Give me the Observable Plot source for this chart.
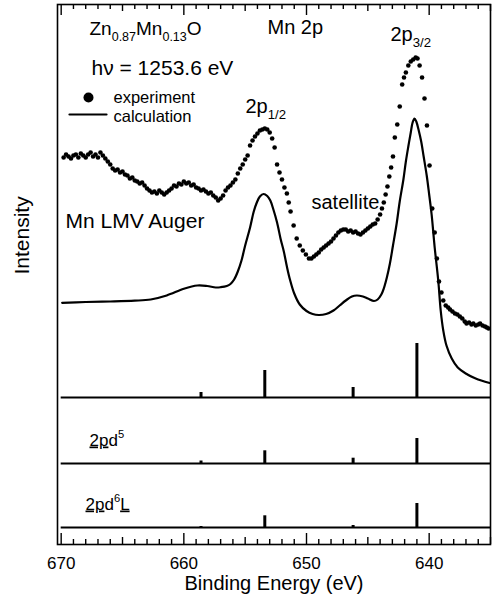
<!DOCTYPE html>
<html><head><meta charset="utf-8">
<script src="https://cdn.jsdelivr.net/npm/d3@7"></script>
<script src="https://cdn.jsdelivr.net/npm/@observablehq/plot@0.6"></script>
<style>html,body{margin:0;padding:0;background:#fff;} svg{display:block;}</style>
</head><body><div id="chart"></div>
<script>
// Experimental points (binding energy in eV, intensity in arbitrary units)
const expEnergy = [
 669.8,669.6,669.4,669.2,669.0,668.8,668.6,668.4,668.2,668.0,
 667.8,667.6,667.4,667.2,667.0,666.8,666.6,666.4,666.2,666.0,
 665.8,665.6,665.4,665.2,665.0,664.8,664.6,664.4,664.2,664.0,
 663.8,663.6,663.4,663.2,663.0,662.8,662.6,662.4,662.2,662.0,
 661.8,661.6,661.4,661.2,661.0,660.8,660.6,660.4,660.2,660.0,
 659.8,659.6,659.4,659.2,659.0,658.8,658.6,658.4,658.2,658.0,
 657.8,657.6,657.4,657.2,657.0,656.8,656.6,656.4,656.2,656.0,
 655.8,655.6,655.4,655.2,655.0,654.8,654.6,654.4,654.2,654.0,
 653.8,653.6,653.4,653.2,653.0,652.8,652.6,652.4,652.2,652.0,
 651.8,651.6,651.45,651.3,651.05,650.8,650.55,650.3,650.05,649.8,
 649.6,649.4,649.2,649.0,648.8,648.6,648.4,648.2,648.0,647.8,
 647.6,647.4,647.2,647.0,646.8,646.6,646.4,646.2,646.0,645.8,
 645.6,645.4,645.2,645.0,644.8,644.6,644.4,644.2,644.0,643.85,
 643.7,643.55,643.4,643.25,643.1,642.95,642.8,642.6,642.4,642.2,
 642.05,641.9,641.7,641.5,641.3,641.1,640.95,640.78,640.58,640.38,
 640.18,639.97,639.75,639.55,639.37,639.2,639.0,638.85,638.65,638.45,
 638.3,638.1,637.9,637.7,637.5,637.3,637.1,636.95,636.75,636.55,
 636.4,636.2,636.0,635.85,635.65,635.45,635.3,635.15
];
const expIntensity = [
 240,243,241,239,242,243,240,244,242,240,
 243,245,241,243,240,245,242,239,236,233,
 229,227,228,225,226,223,222,219,220,217,
 216,214,215,212,209,207,205,206,204,207,
 205,203,205,207,209,212,211,214,213,216,
 214,215,212,213,210,209,207,208,206,204,
 205,202,200,197,199,202,207,210,212,215,
 218,224,229,233,238,242,252,257,261,264,
 267,268,269,268,265,259,250,233,225,218,
 210,204,195,186,172,159,152,147,143,139,
 139,141,143,145,148,150,152,154,156,159,
 162,165,167,168,168,166,167,165,166,164,
 163,165,167,169,171,173,174,178,183,189,
 195,203,211,221,230,241,260,273,291,313,
 320,325,332,336,338,340,339,332,320,299,
 272,232,189,165,139,116,105,97,92,90,
 88,86,84,83,81,79,76,74,75,73,
 74,72,73,74,72,71,70,69
];
// Calculated spectrum
const calcEnergy = [669.92,668.0,666.0,664.0,662.7,661.4,660.0,658.9,658.1,657.4,657.0,656.5,656.2,655.9,655.6,655.3,655.0,654.6,654.3,654.05,653.8,653.5,653.2,652.95,652.7,652.4,652.1,651.85,651.6,651.35,651.0,650.55,650.0,649.5,649.0,648.4,647.8,647.3,646.8,646.3,645.9,645.4,645.0,644.5,644.2,643.9,643.7,643.45,643.2,642.95,642.65,642.4,642.1,641.9,641.7,641.5,641.35,641.2,641.05,640.85,640.65,640.45,640.2,640.0,639.8,639.55,639.26,639.06,638.85,638.59,638.16,637.67,637.02,636.21,635.07];
const calcIntensity = [94.7,95.5,96,96.8,98,102,108.7,112,111.5,110,110.3,111.5,113.5,118,126,137,152,170,186,195,201,203.5,201.5,197,188,175,158,146,131,118,104,93,86.5,83.5,82.5,83.5,87,92,97,101,102,101,99,96.5,98,103,109,120,134,152,174,196,218,236,251,265,275,279,276,267,256,241,222,203,183,150,117,87,67,52,39,30,24,19,14.5];
// Line spectra (final-state weights)
const stickEnergy = [658.6, 653.4, 646.2, 641.0];
const stickTotal  = [5, 27, 10, 54];
const stickD5     = [2.5, 12.7, 5.3, 25];
const stickD6L    = [1, 11.7, 2, 24];
const panelBaselines = [0, -66, -130];
const majorTicks = [670, 660, 650, 640];
const midTicks = [665, 655, 645, 635];
const minorTicks = d3.range(635, 671).filter(v => v % 5 !== 0);

const yDomain = [-147, 393];
const expData = expEnergy.map((E, i) => ({E, I: expIntensity[i]}));
const calcData = calcEnergy.map((E, i) => ({E, I: calcIntensity[i]}));
const stickRows = [];
[stickTotal, stickD5, stickD6L].forEach((hs, p) => {
  hs.forEach((h, i) => stickRows.push({E: stickEnergy[i], base: panelBaselines[p], top: panelBaselines[p] + h}));
});
// inward tick marks on bottom and top edges (1 y-unit = 1 px)
const tickRows = [];
[[majorTicks, 11], [midTicks, 7], [minorTicks, 5]].forEach(([ts, len]) => {
  ts.forEach(t => {
    tickRows.push({E: t, y1: yDomain[0], y2: yDomain[0] + len});
    tickRows.push({E: t, y1: yDomain[1], y2: yDomain[1] - len});
  });
});

const rich = {
  "Zn0.87Mn0.13O": [["Zn"],["0.87","sub"],["Mn"],["0.13","sub"],["O"]],
  "2p1/2": [["2p"],["1/2","sub"]],
  "2p3/2": [["2p"],["3/2","sub"]],
  "2pd5": [["2p","u"],["d"],["5","sup"]],
  "2pd6L": [["2p","u"],["d"],["6","sup"],["L","u"]]
};

const lbl = (s, dx, dy, fontSize, extra = {}) =>
  Plot.text([s], {text: d => d, frameAnchor: "top-left", textAnchor: "start", lineAnchor: "bottom", dx, dy, fontSize, ...extra});

const lineShape = {draw(ctx, l) { ctx.moveTo(0, 0); ctx.lineTo(0, -l); }};

const svg = Plot.plot({
  width: 493, height: 597,
  marginLeft: 57, marginRight: 3, marginTop: 4, marginBottom: 53,
  style: {fontFamily: "'Liberation Sans', Arial, Helvetica, sans-serif", background: "#fff", color: "#000"},
  x: {domain: [670.3, 635]},
  y: {domain: yDomain, axis: null},
  marks: [
    Plot.frame({strokeWidth: 1.6}),
    Plot.ruleX(tickRows, {x: "E", y1: "y1", y2: "y2", strokeWidth: 1.4}),
    Plot.axisX({anchor: "bottom", ticks: majorTicks, tickSize: 0, tickPadding: 12, fontSize: 17, label: null, tickFormat: d => String(d)}),
    Plot.text(["Binding Energy (eV)"], {text: d => d, frameAnchor: "bottom", lineAnchor: "bottom", dy: 45, fontSize: 20}),
    Plot.text(["Intensity"], {text: d => d, frameAnchor: "left", rotate: -90, dx: -35, fontSize: 21}),
    Plot.ruleY(panelBaselines, {x1: 670, x2: 635, strokeWidth: 1.8}),
    Plot.ruleX(stickRows, {x: "E", y1: "base", y2: "top", strokeWidth: 3}),
    Plot.line(calcData, {x: "E", y: "I", curve: "catmull-rom", strokeWidth: 2.2}),
    Plot.dot(expData, {x: "E", y: "I", r: 2.3, fill: "#000", stroke: null}),
    // legend
    Plot.dot([0], {frameAnchor: "top-left", dx: 31, dy: 93, r: 5, fill: "#000"}),
    Plot.vector([0], {frameAnchor: "top-left", dx: 12, dy: 110, length: 37, rotate: 90, anchor: "start", strokeWidth: 2.2, shape: lineShape}),
    lbl("experiment", 56, 98, 16.5),
    lbl("calculation", 56, 117, 16.5),
    lbl("Zn0.87Mn0.13O", 32, 30, 19),
    lbl("Mn 2p", 210, 29, 20),
    lbl("hν = 1253.6 eV", 34, 70, 21),
    lbl("2p1/2", 188, 108, 20),
    lbl("2p3/2", 333, 36, 20),
    lbl("satellite", 254, 204, 20),
    lbl("Mn LMV Auger", 8, 223, 21),
    lbl("2pd5", 32, 441, 17),
    lbl("2pd6L", 28, 505, 17)
  ]
});

document.getElementById("chart").appendChild(svg);

const ns = "http://www.w3.org/2000/svg";
svg.querySelectorAll("text").forEach(t => {
  const parts = rich[t.textContent];
  if (!parts) return;
  const fs = parseFloat(getComputedStyle(t).fontSize) || 18;
  t.textContent = "";
  let shift = 0;
  for (const [s, k] of parts) {
    const ts = document.createElementNS(ns, "tspan");
    const target = k === "sub" ? fs * 0.32 : k === "sup" ? -fs * 0.45 : 0;
    const delta = target - shift;
    if (delta !== 0) ts.setAttribute("dy", delta);
    shift = target;
    if (k === "sub" || k === "sup") ts.setAttribute("font-size", (fs * 0.66).toFixed(1));
    if (k === "u") ts.setAttribute("text-decoration", "underline");
    ts.textContent = s;
    t.appendChild(ts);
  }
});
</script>
</body></html>
